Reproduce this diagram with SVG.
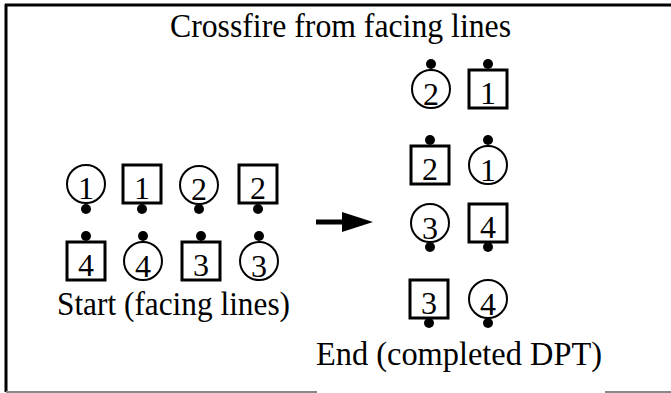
<svg xmlns="http://www.w3.org/2000/svg" width="671" height="393" viewBox="0 0 671 393">
<defs>
<style>
text{font-family:"Liberation Serif","Times New Roman",serif;fill:#000}
.lbl{font-size:33px}
.num{font-size:32px;text-anchor:middle}
.sq{fill:#fff;stroke:#000;stroke-width:3}
.ci{fill:#fff;stroke:#000;stroke-width:2}
.dot{fill:#000}
</style>
</defs>
<rect width="671" height="393" fill="#fff"/>
<g id="frame">
<line x1="5" y1="5" x2="671" y2="5" stroke="#000" stroke-width="3"/>
<line x1="6" y1="4" x2="6" y2="392" stroke="#000" stroke-width="3"/>
<line x1="6" y1="392" x2="317" y2="392" stroke="#888" stroke-width="2"/>
<line x1="605" y1="392" x2="671" y2="392" stroke="#888" stroke-width="2"/>
</g>
<text id="title" class="lbl" x="170" y="37" textLength="341" lengthAdjust="spacingAndGlyphs">Crossfire from facing lines</text>
<text id="start-label" class="lbl" x="57" y="315" font-size="34" textLength="233" lengthAdjust="spacingAndGlyphs">Start (facing lines)</text>
<text id="end-label" class="lbl" x="316" y="365" textLength="286" lengthAdjust="spacingAndGlyphs">End (completed DPT)</text>

<!-- Start: row 1 -->
<g id="s-c1"><circle class="ci" cx="86" cy="184" r="19"/><circle class="dot" cx="86" cy="209" r="5"/><text class="num" x="86" y="199">1</text></g>
<g id="s-s1"><rect class="sq" x="123" y="165" width="38" height="38"/><circle class="dot" cx="142" cy="209" r="5"/><text class="num" x="142" y="199">1</text></g>
<g id="s-c2"><circle class="ci" cx="199" cy="185" r="19"/><circle class="dot" cx="199" cy="209" r="5"/><text class="num" x="199" y="200">2</text></g>
<g id="s-s2"><rect class="sq" x="239" y="165" width="38" height="38"/><circle class="dot" cx="258" cy="209" r="5"/><text class="num" x="258" y="199">2</text></g>

<!-- Start: row 2 -->
<g id="s-s4"><rect class="sq" x="67" y="242" width="38" height="38"/><circle class="dot" cx="86" cy="236" r="5"/><text class="num" x="86" y="276">4</text></g>
<g id="s-c4"><circle class="ci" cx="143" cy="261" r="19"/><circle class="dot" cx="143" cy="236" r="5"/><text class="num" x="143" y="277">4</text></g>
<g id="s-s3"><rect class="sq" x="182" y="242" width="38" height="38"/><circle class="dot" cx="201" cy="236" r="5"/><text class="num" x="201" y="276">3</text></g>
<g id="s-c3"><circle class="ci" cx="259" cy="261" r="19"/><circle class="dot" cx="259" cy="236" r="5"/><text class="num" x="259" y="277">3</text></g>

<!-- End -->
<g id="e-c2"><circle class="ci" cx="431" cy="89" r="19"/><circle class="dot" cx="431" cy="64" r="5"/><text class="num" x="431" y="105">2</text></g>
<g id="e-s1"><rect class="sq" x="469" y="70" width="38" height="38"/><circle class="dot" cx="488" cy="64" r="5"/><text class="num" x="488" y="104">1</text></g>
<g id="e-s2"><rect class="sq" x="411" y="146" width="38" height="38"/><circle class="dot" cx="430" cy="140" r="5"/><text class="num" x="430" y="180">2</text></g>
<g id="e-c1"><circle class="ci" cx="488" cy="165" r="19"/><circle class="dot" cx="488" cy="140" r="5"/><text class="num" x="488" y="181">1</text></g>
<g id="e-c3"><circle class="ci" cx="430" cy="223" r="19"/><circle class="dot" cx="430" cy="247" r="5"/><text class="num" x="430" y="239">3</text></g>
<g id="e-s4"><rect class="sq" x="469" y="204" width="38" height="38"/><circle class="dot" cx="488" cy="247" r="5"/><text class="num" x="488" y="238">4</text></g>
<g id="e-s3"><rect class="sq" x="410" y="280" width="38" height="38"/><circle class="dot" cx="429" cy="323" r="5"/><text class="num" x="429" y="314">3</text></g>
<g id="e-c4"><circle class="ci" cx="488" cy="299" r="19"/><circle class="dot" cx="488" cy="323" r="5"/><text class="num" x="488" y="315">4</text></g>

<g id="connectors">
<line x1="316" y1="222" x2="344" y2="222" stroke="#000" stroke-width="5"/>
<polygon points="342,212 373,222 342,232" fill="#000"/>
</g>
</svg>
